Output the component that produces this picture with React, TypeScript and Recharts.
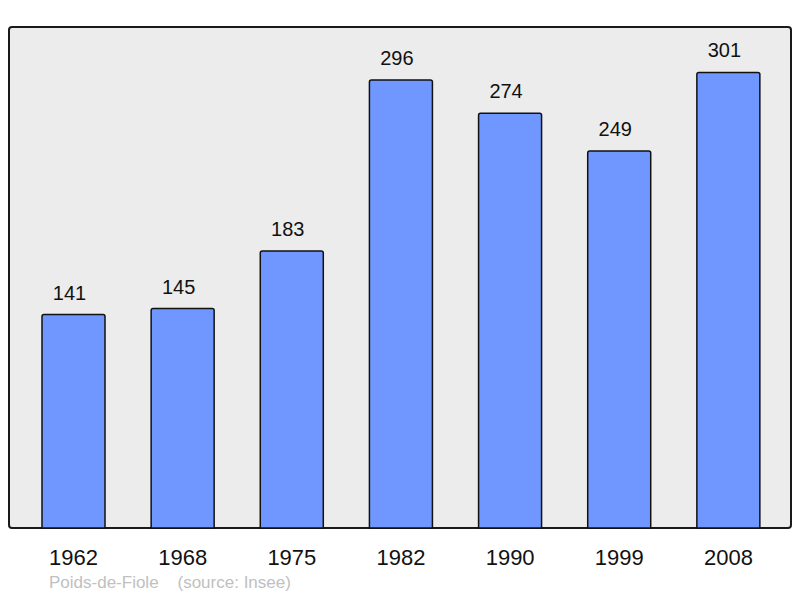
import React from 'react';
import { BarChart, Bar, XAxis, YAxis, LabelList } from 'recharts';

const years = ['1962', '1968', '1975', '1982', '1990', '1999', '2008'];
const population = [141, 145, 183, 296, 274, 249, 301];

const data = years.map((year, i) => ({ year, value: population[i] }));

const font = '"Liberation Sans", Arial, sans-serif';

export default function App() {
  return (
    <div style={{ position: 'absolute', left: 0, top: 0, width: 800, height: 598, background: '#fff', fontFamily: font }}>
      {/* plot frame */}
      <div
        style={{
          position: 'absolute',
          left: 8,
          top: 26,
          width: 780,
          height: 499,
          background: '#ececec',
          border: '2px solid #1a1a1a',
          borderRadius: 4,
        }}
      />
      <div style={{ position: 'absolute', left: 0, top: 0 }}>
        <BarChart
          width={800}
          height={598}
          data={data}
          margin={{ top: 27, right: 9, left: 9, bottom: 30 }}
        >
          <XAxis
            dataKey="year"
            axisLine={false}
            tickLine={false}
            height={40}
            padding={{ left: 10, right: 8 }}
            tick={{ fill: '#111', fontSize: 22, fontFamily: font }}
            tickMargin={15}
            interval={0}
          />
          <YAxis hide domain={[0, 331]} />
          <Bar
            dataKey="value"
            fill="#7097ff"
            stroke="#111"
            strokeWidth={1.5}
            barSize={63}
            radius={[2, 2, 0, 0]}
            isAnimationActive={false}
          >
            <LabelList
              dataKey="value"
              position="top"
              offset={15}
              dx={-4}
              fill="#111"
              fontSize={20}
              fontFamily={font}
            />
          </Bar>
        </BarChart>
      </div>
      <div style={{ position: 'absolute', left: 49, top: 573, fontSize: 17, color: '#c0c0c0', whiteSpace: 'pre' }}>
        {'Poids-de-Fiole    (source: Insee)'}
      </div>
    </div>
  );
}
